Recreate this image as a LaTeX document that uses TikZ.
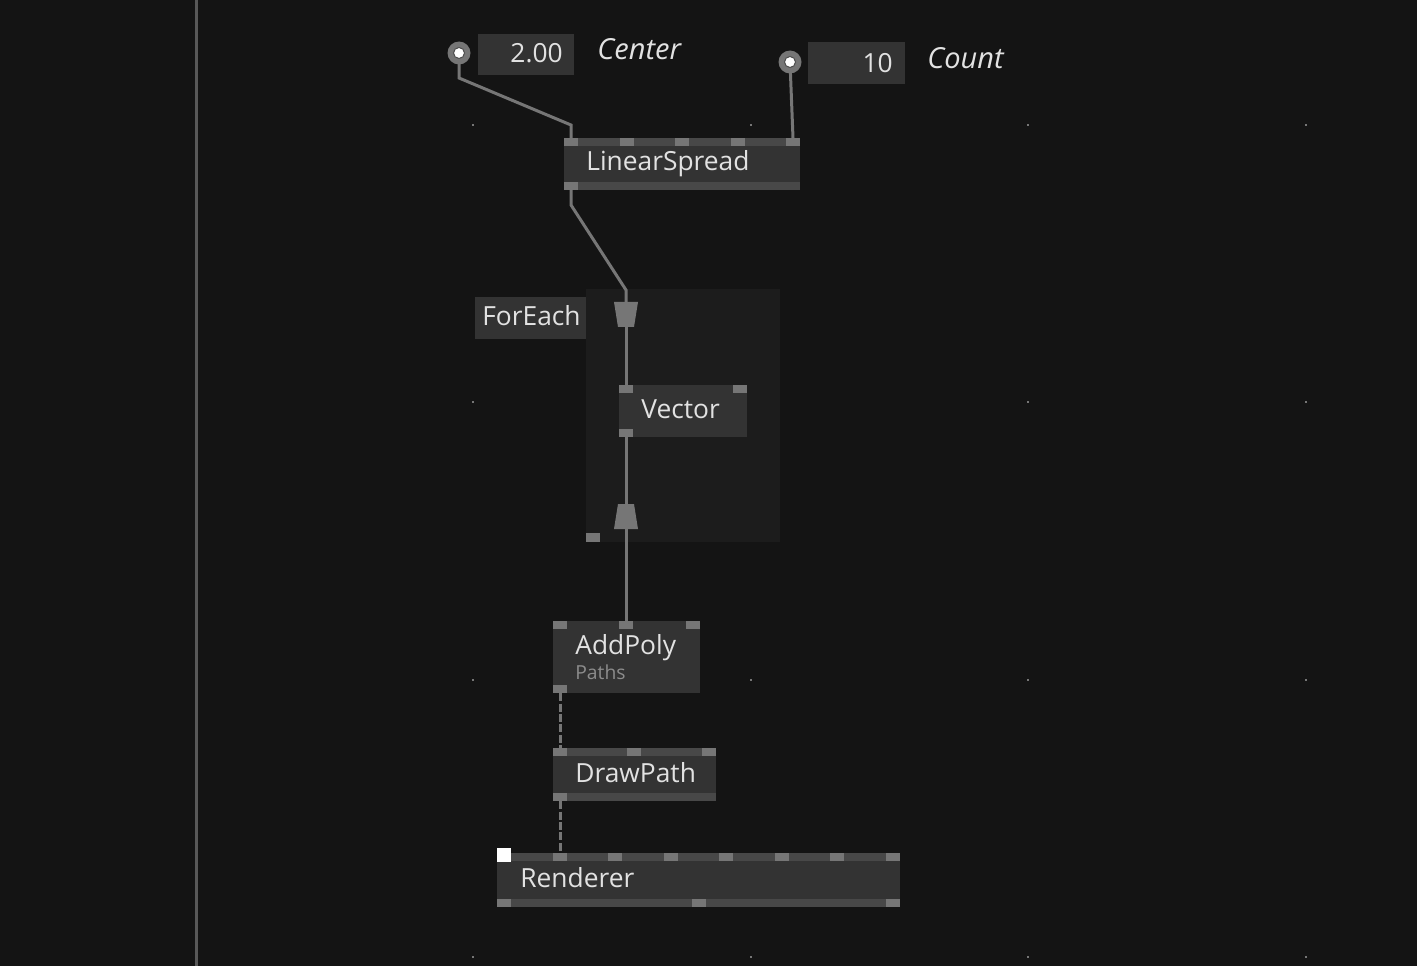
\documentclass[tikz,border=0pt]{standalone}
\usepackage{fontspec}
\setmainfont{Open Sans}
\usepackage{tikz}
\definecolor{canvas}{RGB}{20,20,20}
\definecolor{regionfill}{RGB}{28,28,28}
\definecolor{nodefill}{RGB}{51,51,51}
\definecolor{barfill}{RGB}{72,72,72}
\definecolor{pinfill}{RGB}{118,118,118}
\definecolor{linkgray}{RGB}{118,118,118}
\definecolor{sidegray}{RGB}{88,88,88}
\definecolor{titletext}{RGB}{226,226,226}
\definecolor{dimtext}{RGB}{140,140,140}

\begin{document}
\begin{tikzpicture}[x=0.02cm, y=-0.02cm,
    patch/.style={fill=nodefill, inner sep=0pt, outer sep=0pt, anchor=north west},
    title/.style={text=titletext, font=\fontsize{15}{18}\selectfont, inner sep=0pt, anchor=base west},
    iolabel/.style={title, font=\fontsize{16.5}{19}\selectfont\itshape},
    link/.style={draw=linkgray, line width=0.06cm},
    dashlink/.style={link, dash pattern=on 0.16cm off 0.05cm},
    iopin/.style={circle, fill=pinfill, minimum size=0.46cm, inner sep=0pt}]
  % canvas and left border
  \fill[canvas] (0,0) rectangle (1417,966);
  \useasboundingbox (0,0) rectangle (1417,966);
  \draw[sidegray, line width=0.06cm] (196,0) -- (196,966);
  % grid dots
  \foreach \gx in {473,751,1028,1306}{
    \foreach \gy in {125,402,680,957}{
      \fill[pinfill] (\gx-1,\gy-1) rectangle ++(2,2);
    }
  }
  % ForEach region
  \node[patch, fill=regionfill, minimum width=3.88cm, minimum height=5.06cm] (foreach) at (586,289) {};
  \node[patch, minimum width=2.22cm, minimum height=0.84cm] (foreachtab) at (475,297) {};
  \fill[pinfill] (586,533) rectangle ++(14,9);

  % pin positions
  \coordinate (centerpin) at (459,53);
  \coordinate (countpin) at (790,62);
  \coordinate (ls-in1) at (571,138);
  \coordinate (ls-in5) at (793,138);
  \coordinate (ls-out) at (571,190);
  \coordinate (splice-in) at (626,302);
  \coordinate (splice-in-b) at (626,327);
  \coordinate (vec-in) at (626,385);
  \coordinate (vec-out) at (626,437);
  \coordinate (splice-out) at (626,504);
  \coordinate (splice-out-b) at (626,529);
  \coordinate (poly-in) at (626,621);
  \coordinate (poly-out) at (560,693);
  \coordinate (draw-in) at (560,748);
  \coordinate (draw-out) at (560,801);
  \coordinate (rend-in) at (560,853);

  % links
  \draw[link] (centerpin) -- ++(0,25) -- ([yshift=0.26cm]ls-in1) -- (ls-in1);
  \draw[link] (countpin) -- (ls-in5);
  \draw[link] (ls-out) -- ++(0,15) -- ([yshift=0.24cm]splice-in) -- (splice-in);
  \draw[link] (splice-in-b) -- (vec-in);
  \draw[link] (vec-out) -- (splice-out);
  \draw[link] (splice-out-b) -- (poly-in);
  \draw[dashlink] (poly-out) -- (draw-in);
  \draw[dashlink] (draw-out) -- (rend-in);

  % splicers
  \fill[pinfill] (splice-in) ++(-12,0) -- ++(24,0) -- ++(-4,25) -- ++(-16,0) -- cycle;
  \fill[pinfill] (splice-out) ++(-8,0) -- ++(16,0) -- ++(4,25) -- ++(-24,0) -- cycle;

  % IO boxes
  \node[iopin] (centerdot) at (centerpin) {};
  \fill[white, draw=black!70, line width=0.02cm] (centerdot) circle (5.5);
  \node[patch, minimum width=1.92cm, minimum height=0.82cm] (centerbox) at (478,34) {};
  \node[title, anchor=base east] (centerval) at (563,63) {2.00};
  \node[iolabel] (centerlabel) at (597,60) {Center};
  \node[iopin] (countdot) at (countpin) {};
  \fill[white, draw=black!70, line width=0.02cm] (countdot) circle (5.5);
  \node[patch, minimum width=1.94cm, minimum height=0.84cm] (countbox) at (808,42) {};
  \node[title, anchor=base east] (countval) at (893,73) {10};
  \node[iolabel] (countlabel) at (927,69) {Count};

  % LinearSpread
  \node[patch, minimum width=4.72cm, minimum height=1.04cm] (linearspread) at (564,138) {};
  \fill[barfill] (564,138) rectangle (800,146);
  \fill[barfill] (564,182) rectangle (800,190);
  \foreach \px in {564,620,675,731,786}{
    \fill[pinfill] (\px,138) rectangle ++(14,8);
  }
  \fill[pinfill] (564,182) rectangle ++(14,8);
  \node[title] (ls-title) at (586,171) {LinearSpread};

  % Vector
  \node[patch, minimum width=2.56cm, minimum height=1.04cm] (vector) at (619,385) {};
  \foreach \px in {619,733}{
    \fill[pinfill] (\px,385) rectangle ++(14,8);
  }
  \fill[pinfill] (619,429) rectangle ++(14,8);
  \node[title] (vec-title) at (641,418) {Vector};
  \node[title] (foreach-title) at (482,325) {ForEach};

  % AddPoly
  \node[patch, minimum width=2.94cm, minimum height=1.44cm] (addpoly) at (553,621) {};
  \foreach \px in {553,619,686}{
    \fill[pinfill] (\px,621) rectangle ++(14,8);
  }
  \fill[pinfill] (553,685) rectangle ++(14,8);
  \node[title] (poly-title) at (575,654) {AddPoly};
  \node[title, text=dimtext, font=\fontsize{11}{13}\selectfont] (poly-cat) at (575,679) {Paths};

  % DrawPath
  \node[patch, minimum width=3.26cm, minimum height=1.06cm] (drawpath) at (553,748) {};
  \fill[barfill] (553,748) rectangle (716,756);
  \fill[barfill] (553,793) rectangle (716,801);
  \foreach \px in {553,627,702}{
    \fill[pinfill] (\px,748) rectangle ++(14,8);
  }
  \fill[pinfill] (553,793) rectangle ++(14,8);
  \node[title] (draw-title) at (575,782) {DrawPath};

  % Renderer
  \node[patch, minimum width=8.06cm, minimum height=1.08cm] (renderer) at (497,853) {};
  \fill[barfill] (497,853) rectangle (900,861);
  \fill[barfill] (497,899) rectangle (900,907);
  \foreach \px in {553,608,664,719,775,830,886}{
    \fill[pinfill] (\px,853) rectangle ++(14,8);
  }
  \foreach \px in {497,692,886}{
    \fill[pinfill] (\px,899) rectangle ++(14,8);
  }
  \fill[white] (497,848) rectangle ++(14,14);
  \node[title] (rend-title) at (520,887) {Renderer};
\end{tikzpicture}
\end{document}
